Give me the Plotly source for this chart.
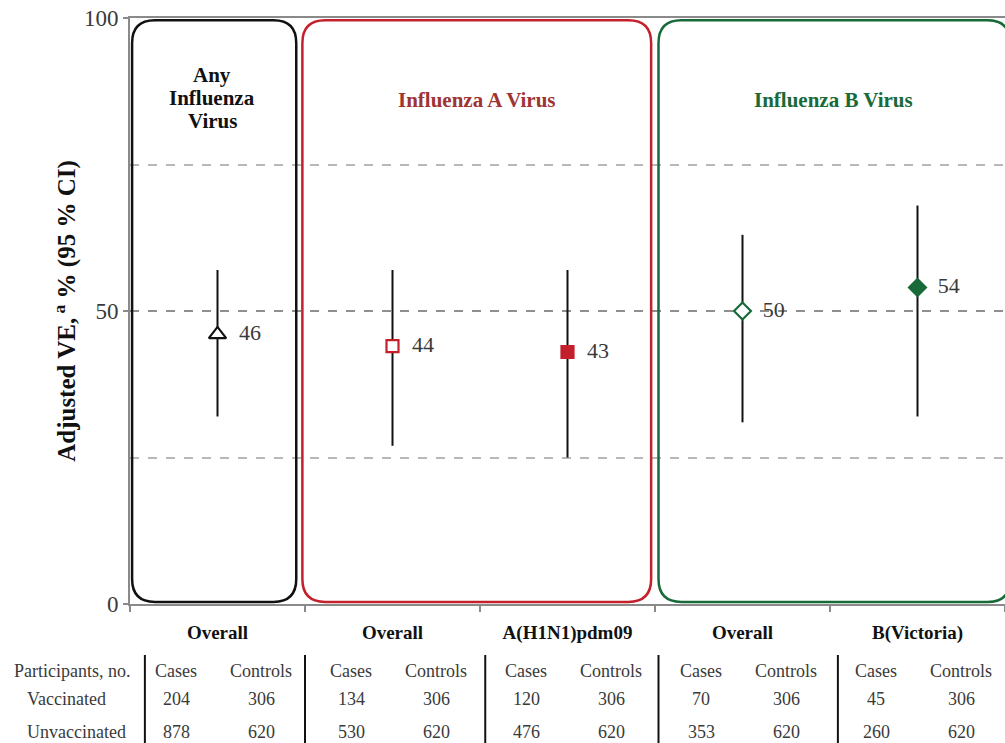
import plotly.graph_objects as go

# ---- data ----
categories = ["Overall", "Overall", "A(H1N1)pdm09", "Overall", "B(Victoria)"]
ve = [46, 44, 43, 50, 54]
ci_low = [32, 27, 25, 31, 32]
ci_high = [57, 57, 57, 63, 68]
cases_vacc = [204, 134, 120, 70, 45]
controls_vacc = [306, 306, 306, 306, 306]
cases_unvacc = [878, 530, 476, 353, 260]
controls_unvacc = [620, 620, 620, 620, 620]
row_labels = ["Participants, no.", "Vaccinated", "Unvaccinated"]
group_titles = ["Any<br>Influenza<br>Virus", "Influenza A Virus", "Influenza B Virus"]

# ---- styles ----
FONT = "Liberation Serif"
BLACK = "#111111"
RED = "#C4202B"
RED_TXT = "#9E3434"
GREEN = "#186A38"
TXT = "#3a3a3a"
symbols = ["triangle-up", "square", "square", "diamond", "diamond"]
fills = ["white", "white", RED, "white", GREEN]
lines = [BLACK, RED, RED, GREEN, GREEN]
sizes = [15, 12, 12, 13, 13]

x = list(range(len(categories)))
fig = go.Figure()
fig.add_trace(go.Scatter(
    x=x, y=ve, mode="markers+text",
    text=["  " + str(v) for v in ve], textposition="middle right",
    textfont=dict(family=FONT, size=22, color=TXT),
    marker=dict(symbol=symbols, color=fills, size=sizes, opacity=1,
                line=dict(color=lines, width=2.2)),
    error_y=dict(type="data", symmetric=False,
                 array=[h - v for h, v in zip(ci_high, ve)],
                 arrayminus=[v - l for v, l in zip(ve, ci_low)],
                 color=BLACK, thickness=2, width=0),
    showlegend=False, cliponaxis=False, hoverinfo="skip",
))

def rounded(x0, x1, y0, y1, rx, ry):
    return (f"M {x0+rx},{y1} L {x1-rx},{y1} Q {x1},{y1} {x1},{y1-ry} "
            f"L {x1},{y0+ry} Q {x1},{y0} {x1-rx},{y0} L {x0+rx},{y0} "
            f"Q {x0},{y0} {x0},{y0+ry} L {x0},{y1-ry} Q {x0},{y1} {x0+rx},{y1} Z")

rx, ry = 0.13, 3.9
boxes = [(-0.488, 0.45, BLACK), (0.485, 2.478, RED), (2.52, 4.53, GREEN)]
shapes = []
for x0, x1, c in boxes:
    shapes.append(dict(type="path", xref="x", yref="y",
                       path=rounded(x0, x1, 0.35, 99.6, rx, ry),
                       line=dict(color=c, width=2.5), layer="above"))

annotations = []
title_pos = [(-0.03, 86.3, BLACK), (1.48, 86, RED_TXT), (3.52, 86, GREEN)]
for (tx, ty, c), t in zip(title_pos, group_titles):
    parts = t.split("<br>")
    n = len(parts)
    for k, p in enumerate(parts):
        annotations.append(dict(x=tx, y=ty, xref="x", yref="y",
                                yshift=(n - 1) / 2 * 23 - k * 23,
                                text=f"<b>{p}</b>", showarrow=False,
                                font=dict(family=FONT, size=21, color=c)))

# table
row_y = [-0.1143, -0.1621, -0.2184]
row_x = [12, 25, 25]
for lbl, yy, xx in zip(row_labels, row_y, row_x):
    annotations.append(dict(x=0, xref="x domain", xshift=xx - 130, y=yy, yref="paper",
                            text=lbl, showarrow=False, xanchor="left", yanchor="middle",
                            font=dict(family=FONT, size=18, color=TXT)))

for i in x:
    cols = [("Cases", cases_vacc[i], cases_unvacc[i], -0.235),
            ("Controls", controls_vacc[i], controls_unvacc[i], 0.25)]
    for head, v1, v2, off in cols:
        for txt, yy in zip([head, v1, v2], row_y):
            annotations.append(dict(x=i + off, xref="x", y=yy, yref="paper",
                                    text=str(txt), showarrow=False,
                                    xanchor="center", yanchor="middle",
                                    font=dict(family=FONT, size=18, color=TXT)))

sep_x = [-0.415, 0.5, 1.53, 2.52, 3.545]
for sx in sep_x:
    shapes.append(dict(type="line", xref="x", yref="paper", x0=sx, x1=sx,
                       y0=-0.087, y1=-0.245, line=dict(color=BLACK, width=2)))

fig.update_layout(
    width=1005, height=743,
    margin=dict(l=130, r=0, t=18, b=139),
    plot_bgcolor="white", paper_bgcolor="white",
    font=dict(family=FONT, color=TXT),
    shapes=shapes, annotations=annotations,
    xaxis=dict(range=[-0.5, 4.5], tickvals=x,
               ticktext=[f"<b>{c}</b>" for c in categories],
               tickfont=dict(family=FONT, size=19, color=BLACK),
               ticks="", ticklabelstandoff=10,
               showgrid=False, zeroline=False,
               showline=True, linecolor="#8a8a8a", linewidth=2, mirror=True,
               minor=dict(tickvals=[-0.5, 0.5, 1.5, 2.5, 3.5, 4.5], ticks="outside",
                          ticklen=6, tickwidth=2, tickcolor="#8a8a8a", showgrid=False)),
    yaxis=dict(range=[0, 100], tickvals=[0, 50, 100],
               tickfont=dict(family=FONT, size=23, color=TXT),
               ticks="outside", ticklen=5, tickwidth=2, tickcolor="#8a8a8a",
               showgrid=True, gridcolor="#8f8f8f", griddash="dash", gridwidth=1.5,
               zeroline=False, showline=True, linecolor="#8a8a8a", linewidth=2,
               minor=dict(tickvals=[25, 75], showgrid=True, gridcolor="#b8b8b8",
                          griddash="dash", gridwidth=1.5, ticks=""),
               title=dict(text="<b>Adjusted VE,<sup> a</sup> % (95 % CI)</b>",
                          font=dict(family=FONT, size=25, color=BLACK), standoff=1)),
)

fig.write_html("out.html", config={"displayModeBar": False},
               post_script="document.body.style.margin='0px';")
